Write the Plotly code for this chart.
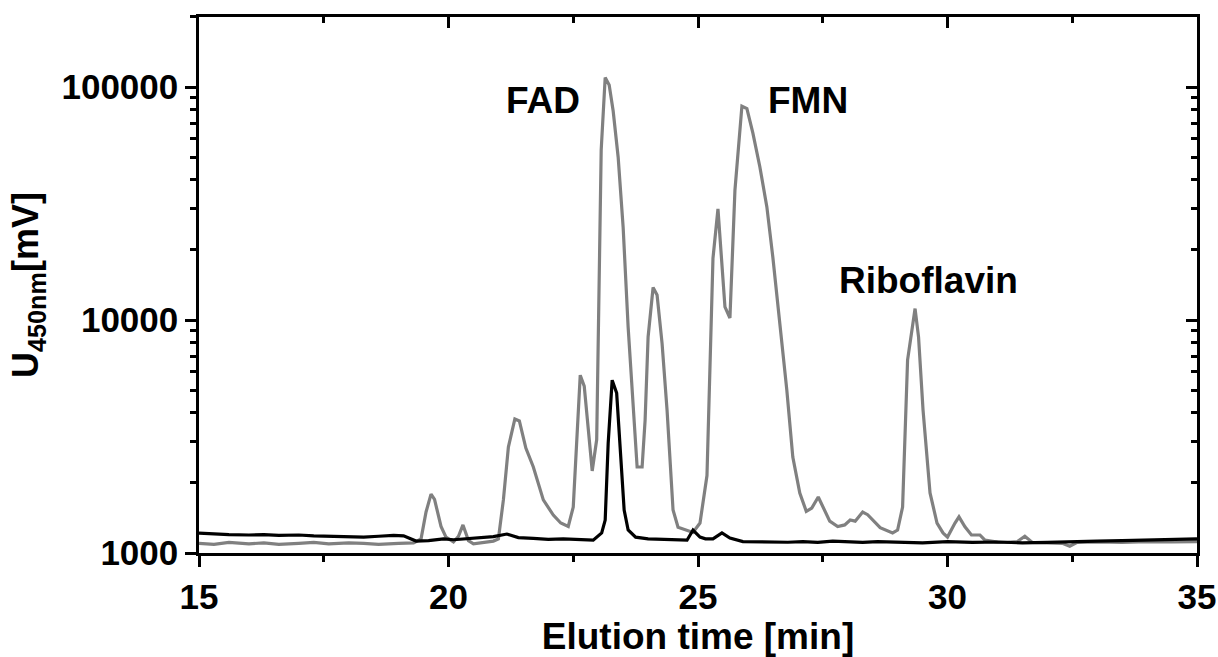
import math
import plotly.graph_objects as go

# ---- data ----
gray_t = [15.0, 15.3, 15.6, 16.0, 16.3, 16.6, 17.0, 17.3, 17.6, 18.0, 18.3, 18.6, 19.0, 19.3,
          19.45, 19.55, 19.65, 19.72, 19.85, 19.95, 20.1, 20.2, 20.29, 20.4, 20.5, 20.7, 20.9,
          21.0, 21.1, 21.2, 21.33, 21.42, 21.55, 21.7, 21.9, 22.1, 22.25, 22.4, 22.5, 22.64,
          22.72, 22.88, 22.97, 23.06, 23.14, 23.22, 23.30, 23.40, 23.50, 23.60, 23.70, 23.78,
          23.88, 23.94, 24.0, 24.1, 24.18, 24.28, 24.38, 24.5, 24.6, 24.78, 24.9, 25.04, 25.18,
          25.3, 25.4, 25.54, 25.64, 25.74, 25.88, 25.98, 26.1, 26.24, 26.38, 26.5, 26.64, 26.78,
          26.9, 27.04, 27.17, 27.28, 27.41, 27.5, 27.64, 27.8, 27.94, 28.05, 28.15, 28.3, 28.4,
          28.65, 28.9, 29.0, 29.1, 29.2, 29.28, 29.35, 29.42, 29.51, 29.65, 29.79, 29.91, 30.0,
          30.15, 30.23, 30.35, 30.48, 30.65, 30.75, 31.0, 31.2, 31.4, 31.55, 31.7, 32.0, 32.3,
          32.45, 32.6, 33.0, 33.5, 34.0, 34.5, 35.0]
gray_v = [1100, 1090, 1110, 1095, 1105, 1090, 1100, 1110, 1095, 1105, 1100, 1090, 1100, 1105,
          1150, 1500, 1790, 1700, 1300, 1170, 1115, 1180, 1320, 1130, 1095, 1110, 1125,
          1150, 1690, 2850, 3760, 3690, 2820, 2340, 1690, 1455, 1345, 1300, 1575, 5800,
          5200, 2250, 3070, 53700, 110000, 102000, 79000, 50000, 25000, 9330, 4110, 2340,
          2340, 3720, 8460, 13800, 12800, 7950, 4110, 1530, 1290, 1255, 1225, 1345, 2150,
          18400, 30000, 11400, 10200, 36000, 82800, 80800, 63500, 45400, 30600, 18600, 9700, 5000,
          2580, 1810, 1510, 1560, 1740, 1580, 1370, 1300, 1320, 1385, 1370, 1500, 1460,
          1285, 1220, 1255, 1575, 6730, 9040, 11200, 8450, 4110, 1810, 1345, 1220, 1170,
          1345, 1430, 1295, 1195, 1195, 1135, 1115, 1110, 1120, 1180, 1110, 1105, 1100,
          1070, 1110, 1115, 1110, 1120, 1115, 1120]

black_t = [15.0, 15.3, 15.6, 16.0, 16.3, 16.6, 17.0, 17.3, 17.6, 18.0, 18.3, 18.6, 18.9, 19.1,
           19.35, 19.6, 19.9, 20.1, 20.4, 20.7, 20.9, 21.17, 21.4, 21.7, 22.0, 22.3, 22.6, 22.9,
           23.07, 23.14, 23.2, 23.28, 23.37, 23.43, 23.52, 23.6, 23.75, 24.0, 24.3, 24.6, 24.78,
           24.9, 25.04, 25.15, 25.3, 25.48, 25.64, 25.9, 26.2, 26.5, 26.8, 27.1, 27.4, 27.7,
           28.0, 28.3, 28.6, 29.0, 29.5, 30.0, 30.5, 31.0, 31.5, 32.0, 32.5, 33.0, 33.5, 34.0,
           34.5, 35.0]
black_v = [1218, 1205, 1200, 1195, 1200, 1190, 1195, 1185, 1180, 1175, 1170, 1180, 1190, 1185,
           1125, 1130, 1150, 1140, 1150, 1165, 1175, 1206, 1165, 1155, 1145, 1150, 1140, 1135,
           1220, 1385, 2960, 5520, 4860, 2960, 1530, 1255, 1170, 1150, 1145, 1140, 1135,
           1255, 1170, 1150, 1150, 1220, 1160, 1120, 1115, 1118, 1112, 1120, 1110, 1125,
           1115, 1110, 1120, 1110, 1105, 1120, 1110, 1115, 1105, 1110, 1120, 1125, 1130, 1135,
           1140, 1150]

x_major = [15, 20, 25, 30, 35]
x_minor = [17.5, 22.5, 27.5, 32.5]
y_major = [1000, 10000, 100000]
y_major_text = ["1000", "10000", "100000"]
y_minor = [2000, 3000, 4000, 5000, 6000, 7000, 8000, 9000,
           20000, 30000, 40000, 50000, 60000, 70000, 80000, 90000, 200000]

peak_labels = ["FAD", "FMN", "Riboflavin"]
peak_label_t = [21.9, 27.2, 29.62]
peak_label_v = [88000, 88000, 14800]

X_RANGE = [15, 35]
Y_RANGE_LOG = [3, 5.301]

FONT = "Liberation Sans, Arial, sans-serif"

fig = go.Figure()
fig.add_trace(go.Scatter(x=gray_t, y=gray_v, mode="lines",
                         line=dict(color="#808080", width=3.2), showlegend=False))
fig.add_trace(go.Scatter(x=black_t, y=black_v, mode="lines",
                         line=dict(color="#000000", width=3.2), showlegend=False))
# empty trace so the mirrored (top/right) axes are drawn
fig.add_trace(go.Scatter(x=[], y=[], xaxis="x2", yaxis="y2", showlegend=False,
                         hoverinfo="skip"))

tickfont = dict(family=FONT, size=35, color="black", weight="bold")

fig.update_layout(
    width=1218, height=657,
    margin=dict(l=199, r=21, t=17, b=104, autoexpand=False),
    paper_bgcolor="white", plot_bgcolor="white",
    xaxis=dict(range=X_RANGE, showgrid=False, zeroline=False, automargin=False,
               showline=True, linecolor="black", linewidth=2.5,
               tickmode="array", tickvals=x_major, ticktext=[str(v) for v in x_major],
               ticks="outside", ticklen=11, tickwidth=2.5, tickcolor="black",
               tickfont=tickfont,
               minor=dict(tickmode="array", tickvals=x_minor, ticks="outside",
                          ticklen=6, tickwidth=2.5, tickcolor="black", showgrid=False),
               title=dict(text="Elution time [min]", standoff=4,
                          font=dict(family=FONT, size=37, color="black", weight="bold"))),
    yaxis=dict(type="log", range=Y_RANGE_LOG, showgrid=False, zeroline=False,
               automargin=False,
               showline=True, linecolor="black", linewidth=2.5,
               tickmode="array", tickvals=y_major, ticktext=y_major_text,
               ticks="outside", ticklen=11, tickwidth=2.5, tickcolor="black",
               tickfont=tickfont,
               minor=dict(tickmode="array", tickvals=y_minor, ticks="outside",
                          ticklen=6, tickwidth=2.5, tickcolor="black", showgrid=False),
               title=dict(text="U<sub>450nm</sub>[mV]", standoff=12,
                          font=dict(family=FONT, size=36, color="black", weight="bold"))),
    xaxis2=dict(range=X_RANGE, overlaying="x", side="top", anchor="y2",
                showgrid=False, zeroline=False, automargin=False,
                showline=True, linecolor="black", linewidth=2.5,
                tickmode="array", tickvals=x_major, showticklabels=False,
                ticks="inside", ticklen=11, tickwidth=2.5, tickcolor="black",
                minor=dict(tickmode="array", tickvals=x_minor, ticks="inside",
                           ticklen=6, tickwidth=2.5, tickcolor="black", showgrid=False)),
    yaxis2=dict(type="log", range=Y_RANGE_LOG, overlaying="y", side="right", anchor="x2",
                showgrid=False, zeroline=False, automargin=False,
                showline=True, linecolor="black", linewidth=2.5,
                tickmode="array", tickvals=y_major, showticklabels=False,
                ticks="inside", ticklen=11, tickwidth=2.5, tickcolor="black",
                minor=dict(tickmode="array", tickvals=y_minor, ticks="inside",
                           ticklen=6, tickwidth=2.5, tickcolor="black", showgrid=False)),
)

for txt, t, v in zip(peak_labels, peak_label_t, peak_label_v):
    fig.add_annotation(x=t, y=math.log10(v), xref="x", yref="y", text=txt,
                       showarrow=False, xanchor="center", yanchor="middle",
                       font=dict(family=FONT, size=37, color="black", weight="bold"))

fig.write_html("out.html", config={"displayModeBar": False},
               post_script="document.body.style.margin='0';document.body.style.overflow='hidden';")
